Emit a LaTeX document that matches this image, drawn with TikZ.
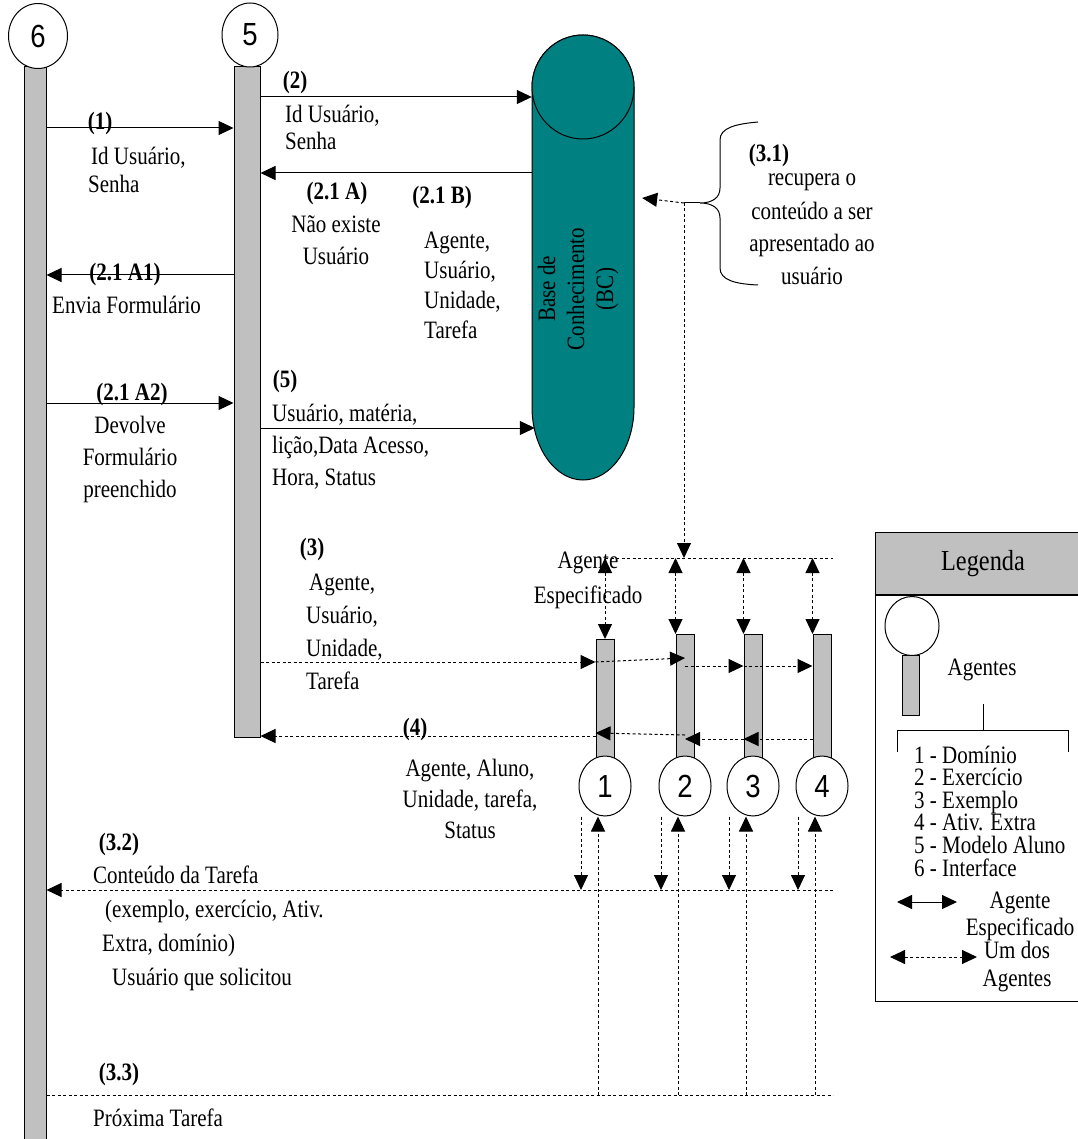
\documentclass[tikz,border=0pt]{standalone}
\usepackage{fontspec}
\setmainfont{Liberation Serif}[FakeStretch=0.84]
\newfontfamily\agfont{Liberation Sans}[FakeStretch=0.86]
\usetikzlibrary{arrows.meta,shapes.geometric}
\definecolor{bcteal}{RGB}{0,128,128}
\definecolor{bargray}{RGB}{192,192,192}
\tikzset{
  lifebar/.style={draw, fill=bargray, line width=1pt, inner sep=0pt},
  agcirc/.style={ellipse, draw, fill=white, line width=1pt, inner sep=0pt,
    font=\agfont\fontsize{32}{32}\selectfont},
  msg/.style={-{Triangle[length=15pt,width=14pt]}, line width=1pt},
  dmsg/.style={msg, dash pattern=on 3pt off 2.5pt},
  dline/.style={line width=1pt, dash pattern=on 3pt off 2.5pt},
  dboth/.style={dline, arrows={Triangle[length=15pt,width=14pt]-Triangle[length=15pt,width=14pt]}},
  lbl/.style={inner sep=0pt, font=\fontsize{25}{31}\selectfont},
  blbl/.style={inner sep=0pt, font=\fontsize{25}{31}\selectfont\bfseries},
}

\begin{document}
\begin{tikzpicture}[x=1pt, y=-1pt]
\useasboundingbox (0,0) rectangle (1077,1139);
% agentes 6 (Interface) e 5 (Modelo Aluno)
\node[lifebar, anchor=north, minimum width=22pt, minimum height=1090pt] (b6) at (35,66) {};
\node[agcirc, minimum width=59pt, minimum height=65pt] (c6) at (38,36) {6};
\node[lifebar, anchor=north, minimum width=26pt, minimum height=671pt] (b5) at (247,66) {};
\node[agcirc, minimum width=56pt, minimum height=64pt] (c5) at (250,35) {5};
% base de conhecimento
\draw[fill=bcteal, line width=1pt] (532,87) -- (532,407)
  arc[start angle=180, end angle=360, x radius=51pt, y radius=73pt] -- (634,87)
  arc[start angle=0, end angle=180, x radius=51pt, y radius=52pt] -- cycle;
\draw[fill=bcteal, line width=1pt] (583,87) circle[x radius=51pt, y radius=52pt];
\node[inner sep=0pt, minimum width=102pt, minimum height=445pt] (bc) at (583,257) {};
\node[lbl, rotate=90, align=center, font=\fontsize{25}{29}\selectfont] (bctxt) at (578,289) {Base de\\Conhecimento\\(BC)};
% agentes 1 a 4
\foreach \i/\x/\t in {1/605/639, 2/685/634, 3/753/634, 4/822/634} {
  \node[lifebar, anchor=north, minimum width=18pt, minimum height={786-\t}] (a\i) at (\x,\t) {};
  \node[agcirc, minimum width=52pt, minimum height=60pt] (c\i) at (\x,786) {\i};
}
% mensagens 1, 2, 2.1 e 5
\draw[msg] (b6.east |- 0,128) -- (b5.west |- 0,128);
\draw[msg] (b5.east |- 0,97) -- (bc.west |- 0,97);
\draw[msg] (bc.west |- 0,173) -- (b5.east |- 0,173);
\draw[msg] (b5.west |- 0,275) -- (b6.east |- 0,275);
\draw[msg] (b6.east |- 0,403) -- (b5.west |- 0,403);
\draw[msg] (b5.east |- 0,428) -- ([xshift=3pt]bc.west |- 0,428);
% 3.1: chave e busca na BC
\coordinate (brtip) at (700,203);
\coordinate (fork) at (684,203);
\draw[line width=1pt] (758,122) .. controls (735,124) and (720,128) .. (720,140) -- (720,188)
  .. controls (720,198) and (712,203) .. (brtip) .. controls (712,203) and (720,208) .. (720,218)
  -- (720,268) .. controls (720,280) and (735,284) .. (758,285);
\draw[line width=1pt] (brtip) -- (fork);
\draw[dmsg] (fork) -- ([xshift=8pt]bc.east |- 0,198);
\coordinate (specL) at (605,558);
\coordinate (specR) at (833,558);
\draw[dmsg] (fork) -- (fork |- specR);
\draw[dline] (specL) -- (specR);
\draw[dboth] (a1.north |- specL) -- (a1.north);
\foreach \i in {2,3,4} \draw[dboth] (a\i.north west |- specL) -- (a\i.north west);
% 3: agente especificado
\draw[dmsg] (b5.east |- 0,662) -- (a1.west |- 0,662);
\draw[dmsg] (a1.west |- 0,662) -- (a2 |- 0,658);
\draw[dmsg] (a2 |- 0,666) -- (a3.west |- 0,666);
\draw[dmsg] (a3.west |- 0,666) -- (a4.west |- 0,666);
% 4: retorno
\draw[dmsg] (a4.west |- 0,739) -- (a3.west |- 0,739);
\draw[dmsg] (a3.west |- 0,739) -- (a2 |- 0,739);
\draw[dmsg] (a2 |- 0,735) -- (a1.west |- 0,733);
\draw[dmsg] (a1.west |- 0,736) -- (b5.east |- 0,736);
% 3.2 e 3.3
\coordinate (l32R) at (833,890);
\coordinate (l33R) at (833,1095);
\draw[dmsg] (l32R) -- (b6.east |- l32R);
\draw[dline] (b6.east |- l33R) -- (l33R);
\foreach \i in {1,...,4} {
  \draw[dmsg] ([xshift=-24pt]c\i.south) -- ([xshift=-24pt]c\i.south |- l32R);
  \draw[dmsg] ([xshift=-7pt]c\i.south |- l33R) -- ([xshift=-7pt]c\i.south);
}
% rotulos (base = ultima linha)
\node[blbl, anchor=base] (n1) at (100,130) {(1)};
\node[lbl, anchor=base west, align=left, font=\fontsize{25}{28}\selectfont] (t1) at (88,193) {\hspace{3pt}Id Usuário,\\Senha};
\node[blbl, anchor=base] (n2) at (295,89) {(2)};
\node[lbl, anchor=base west, align=left, font=\fontsize{25}{27}\selectfont] (t2) at (285,150) {Id Usuário,\\Senha};
\node[blbl, anchor=base] (n21a) at (337,200) {(2.1 A)};
\node[lbl, anchor=base, align=center, font=\fontsize{25}{32}\selectfont] (t21a) at (336,265) {Não existe\\Usuário};
\node[blbl, anchor=base] (n21b) at (442,204) {(2.1 B)};
\node[lbl, anchor=base west, align=left, font=\fontsize{25}{30}\selectfont] (t21b) at (424,338) {Agente,\\Usuário,\\Unidade,\\Tarefa};
\node[blbl, anchor=base] (n21a1) at (125,280) {(2.1 A1)};
\node[lbl, anchor=base west] (t21a1) at (52,313) {Envia Formulário};
\node[blbl, anchor=base] (n21a2) at (132,400) {(2.1 A2)};
\node[lbl, anchor=base, align=center, font=\fontsize{25}{32}\selectfont] (t21a2) at (130,497) {Devolve\\Formulário\\preenchido};
\node[blbl, anchor=base] (n5) at (285,387) {(5)};
\node[lbl, anchor=base west, align=left, font=\fontsize{25}{32}\selectfont] (t5) at (272,485) {Usuário, matéria,\\lição,Data Acesso,\\Hora, Status};
\node[blbl, anchor=base] (n3) at (312,555) {(3)};
\node[lbl, anchor=base west, align=left, font=\fontsize{25}{33}\selectfont] (t3) at (306,689) {\hspace{3pt}Agente,\\Usuário,\\Unidade,\\Tarefa};
\node[blbl, anchor=base] (n4) at (415,735) {(4)};
\node[lbl, anchor=base, align=center] (t4) at (470,838) {Agente, Aluno,\\Unidade, tarefa,\\Status};
\node[lbl, anchor=base, align=center, font=\fontsize{25}{35}\selectfont] (tspec) at (588,603) {Agente\\Especificado};
\node[blbl, anchor=base] (n31) at (769,162) {(3.1)};
\node[lbl, anchor=base, align=center, font=\fontsize{25}{33}\selectfont] (t31) at (812,285) {recupera o\\conteúdo a ser\\apresentado ao\\usuário};
\node[blbl, anchor=base] (n32) at (119,850) {(3.2)};
\node[lbl, anchor=base west, align=left, font=\fontsize{25}{34}\selectfont] (t32) at (93,985) {Conteúdo da Tarefa\\\hspace{12pt}(exemplo, exercício, Ativ.\\\hspace{9pt}Extra, domínio)\\\hspace{19pt}Usuário que solicitou};
\node[blbl, anchor=base] (n33) at (119,1080) {(3.3)};
\node[lbl, anchor=base west] (t33) at (93,1126) {Próxima Tarefa};
% legenda
\node[draw, fill=bargray, line width=1pt, anchor=north west, minimum width=215pt, minimum height=62pt, inner sep=0pt, font=\fontsize{29}{31}\selectfont] (leghead) at (875,532) {Legenda};
\node[draw, line width=1pt, anchor=north west, minimum width=215pt, minimum height=406pt, inner sep=0pt] (legbody) at (leghead.south west) {};
\node[lifebar, anchor=north, minimum width=17pt, minimum height=60pt] (lgbar) at (911,655) {};
\node[agcirc, minimum width=54pt, minimum height=59pt] (lgcirc) at (912,626) {};
\node[lbl] (lgag) at (982,670) {Agentes};
\draw[line width=1pt] (983,704) -- (983,730);
\draw[line width=1pt] (897,752) -- (897,730) -- (1068,730) -- (1068,752);
\node[lbl, anchor=base west, align=left, font=\fontsize{25}{22.6}\selectfont] (lglist) at (914,876) {1 - Domínio\\2 - Exercício\\3 - Exemplo\\4 - Ativ. Extra\\5 - Modelo Aluno\\6 - Interface};
\coordinate (lgs1) at (897,902);
\coordinate (lgs2) at (957,902);
\draw[line width=1pt, arrows={Triangle[length=15pt,width=14pt]-Triangle[length=15pt,width=14pt]}] (lgs1) -- (lgs2);
\node[lbl, anchor=base, align=center, font=\fontsize{25}{27}\selectfont] (lgspec) at (1020,935) {Agente\\Especificado};
\coordinate (lgd1) at (890,957);
\coordinate (lgd2) at (977,957);
\draw[dboth] (lgd1) -- (lgd2);
\node[lbl, anchor=base, align=center, font=\fontsize{25}{28}\selectfont] (lgum) at (1017,986) {Um dos\\Agentes};
\end{tikzpicture}
\end{document}
